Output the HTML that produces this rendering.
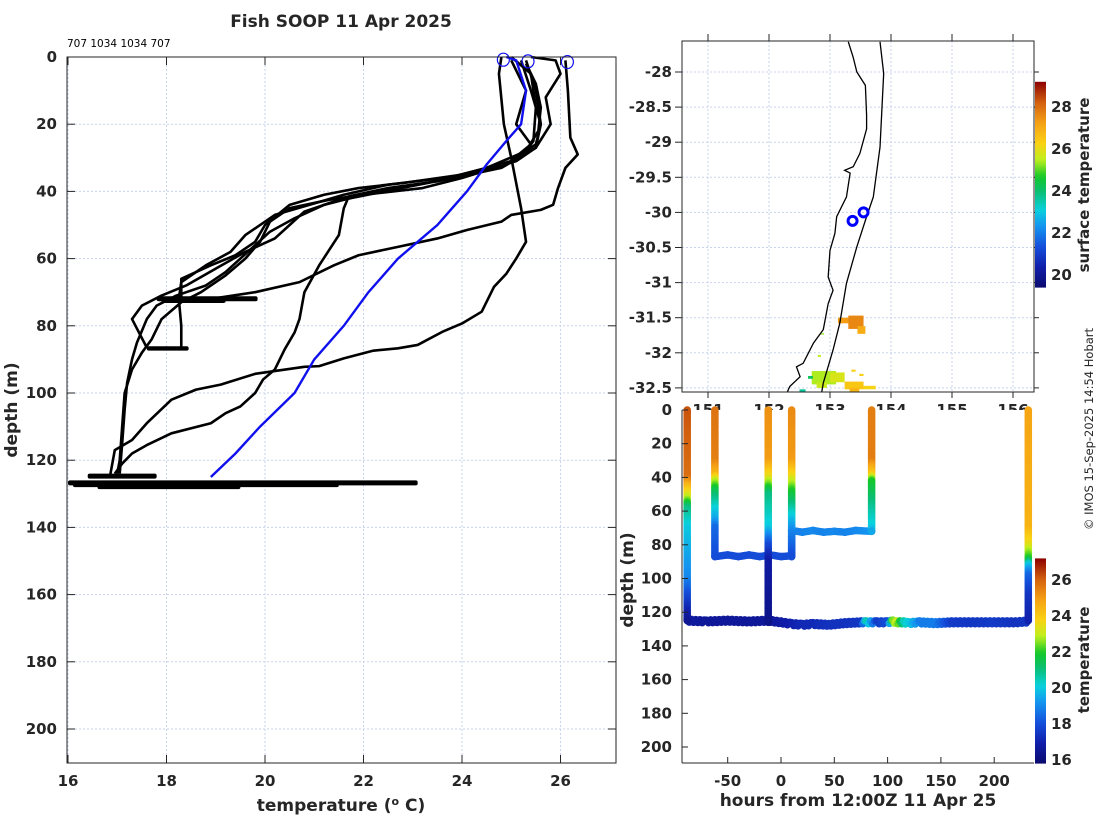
<!DOCTYPE html>
<html><head><meta charset="utf-8"><title>Fish SOOP 11 Apr 2025</title>
<style>
html,body{margin:0;padding:0;background:#fff;}
svg{display:block;font-family:"DejaVu Sans","Liberation Sans",sans-serif;}
.tk{font-weight:bold;font-size:15px;fill:#262626;}
.lb{font-weight:bold;font-size:17px;fill:#262626;}
</style></head>
<body>
<svg id="fig" width="1100" height="820" viewBox="0 0 1100 820" xmlns="http://www.w3.org/2000/svg">
<rect width="1100" height="820" fill="#fff"/>
<g id="left"></g>
<g id="map"></g>
<g id="sect"></g>
<text x="341" y="27" text-anchor="middle" class="lb">Fish SOOP 11 Apr 2025</text>
<text x="67" y="47" font-size="10.5" fill="#000">707 1034 1034 707</text>
<text transform="translate(1093,429) rotate(-90)" text-anchor="middle" font-size="11.5" fill="#262626">© IMOS 15-Sep-2025 14:54 Hobart</text>
</svg>
<script>
// ---------- data: left profile panel (temperature degC, depth m) ----------
const tempTicks = [16,18,20,22,24,26];
const depthTicks = [0,20,40,60,80,100,120,140,160,180,200];
const blueProfile = [[24.9,0],[25.1,1],[25.3,10],[25.2,20],[24.9,25],[24.5,32],[24.1,40],[23.8,45],[23.5,50],[23.1,55],[22.7,60],[22.4,65],[22.1,70],[21.6,80],[21.0,90],[20.6,100],[19.9,110],[19.4,118],[18.9,125]];
const profile1 = [[26.1,1],[26.15,10],[26.2,24],[26.35,29],[26.1,33],[25.95,39],[25.85,44],[25.6,45.5],[25.0,47],[24.8,49],[24.1,51.5],[23.5,54],[22.7,56.5],[21.9,59],[21.4,62],[20.7,67],[19.8,70],[18.9,72],[17.9,72.5]];
const profile2 = [[24.8,0],[24.75,5],[24.85,20],[25.0,30],[25.2,45],[25.3,55],[25.1,60],[24.9,64.5],[24.65,68.4],[24.4,75.8],[24.0,79.3],[23.6,81.8],[23.1,85.7],[22.7,86.7],[22.2,87.4],[21.6,89.7],[21.1,92],[20.8,92.2],[19.8,94.3],[19.1,97.5],[18.6,99],[18.1,102],[17.6,109],[17.3,114],[16.95,117],[16.9,121],[16.85,125]];
const profile3 = [[25.3,1],[25.5,10],[25.6,20],[25.5,27],[24.8,33],[23.5,37],[22.5,39],[21.7,41.5],[21.6,45],[21.5,53],[21.1,62],[20.8,70],[20.7,78],[20.6,82],[20.4,87],[20.2,93],[19.96,96],[19.8,100],[19.5,104],[19.2,106],[18.9,109],[18.1,112],[17.6,115.5],[17.3,118],[17.1,121],[16.95,124]];
const profileA1 = [[25.2,1],[25.4,10],[25.6,20],[25.5,26],[25.0,31],[24.0,35],[22.8,37.5],[21.9,39],[21.2,41],[20.5,44],[20.0,50],[19.8,55],[19.4,59],[18.9,62],[18.3,66],[18.3,72]];
const profileA2 = [[25.3,2],[25.5,8],[25.6,15],[25.55,22],[25.3,28],[24.5,33],[23.3,37.5],[22.2,40.5],[21.3,42.5],[20.5,45],[20.1,49],[19.9,55],[19.6,60],[19.2,65],[18.7,70],[18.3,73],[17.9,78],[17.7,84],[17.5,88],[17.3,93],[17.15,100],[17.1,110],[17.05,120],[17.0,124]];
const profileA3 = [[25.0,0],[25.4,5],[25.5,15],[25.45,25],[25.2,30],[24.2,35],[22.5,38],[21.6,41],[20.9,44],[20.2,47],[19.6,53],[19.3,58],[18.8,62],[18.3,67],[18.25,72],[18.3,80],[18.3,86.5]];
const profileA4 = [[25.4,0],[25.9,1],[26.0,5],[25.7,12],[25.8,20],[25.5,27],[25.1,31],[24.0,36],[23.2,39],[22.0,41],[21.2,44],[20.6,48],[20.1,52],[19.8,56],[19.5,60],[19.2,64],[18.8,68],[18.2,71],[17.8,74],[17.6,78],[17.4,85],[17.3,90],[17.2,97],[17.15,105],[17.1,115],[17.05,124]];
const profileA5 = [[25.0,1],[25.3,10],[25.1,20],[25.4,26],[24.9,32],[23.8,36],[22.6,39.5],[21.4,43],[20.8,46],[20.5,50],[20.2,54],[19.6,58],[19.0,63],[18.4,68],[17.9,71],[17.5,74],[17.3,78],[17.6,86.5]];
// bottom-sitting scribbles: [tempMin, tempMax, depth, thickness(m)]
const bottomBlobs = [[17.8,19.85,71.8,1.2],[17.9,19.2,72.6,0.6],[17.6,18.45,86.6,1.0],[16.4,17.8,124.6,1.2],[16.0,23.1,126.6,1.2],[16.1,21.5,127.3,0.8],[16.6,19.5,128.0,0.6]];
const surfaceMarks = [[24.84,0.8],[25.34,1.3],[26.14,1.5]];

// ---------- data: map ----------
const lonTicks = [151,152,153,154,155,156];
const latTicks = [-28,-28.5,-29,-29.5,-30,-30.5,-31,-31.5,-32,-32.5];
const coastLon = [153.30,153.38,153.44,153.58,153.60,153.60,153.49,153.38,153.24,153.33,153.27,153.11,153.08,153.00,152.97,153.05,152.97,152.89,152.73,152.56,152.45,152.51,152.34,152.29];
const coastLat = [-27.57,-27.79,-28.0,-28.19,-28.62,-28.81,-29.16,-29.35,-29.40,-29.44,-29.78,-30.06,-30.30,-30.54,-30.92,-31.11,-31.30,-31.67,-31.86,-32.15,-32.20,-32.34,-32.48,-32.58];
const isoLon = [153.82,153.88,153.82,153.71,153.60,153.44,153.27,153.16,153.05,152.89,152.86];
const isoLat = [-27.57,-28.02,-29.07,-29.78,-30.06,-30.49,-31.01,-31.58,-31.96,-32.43,-32.58];
const stationLon = [153.37,153.55];
const stationLat = [-30.12,-30.0];
// SST patches: [lon0, lon1, latTop, latBottom, temp]
const sstPatches = [[153.13,153.45,-31.50,-31.58,27.3],[153.30,153.55,-31.47,-31.66,27.6],[153.45,153.58,-31.62,-31.73,27.0],
 [152.70,153.10,-32.26,-32.45,25.4],[153.00,153.24,-32.28,-32.42,25.8],[152.78,152.95,-32.42,-32.50,25.6],
 [153.24,153.55,-32.41,-32.52,26.5],[153.32,153.48,-32.50,-32.57,26.8],[153.55,153.75,-32.47,-32.52,26.2],
 [152.64,152.72,-32.33,-32.37,24.2],[152.50,152.60,-32.52,-32.57,23.6],[152.85,152.90,-31.72,-31.74,25.3],[152.80,152.85,-32.03,-32.06,25.5],[153.35,153.42,-32.24,-32.27,26.3],[153.48,153.55,-32.30,-32.33,26.3]];
const sstRange = [19.4,29.2];
const sstTicks = [20,22,24,26,28];

// ---------- data: section (hours vs depth coloured by temp) ----------
const hourTicks = [-50,0,50,100,150,200];
const secDepthTicks = [0,20,40,60,80,100,120,140,160,180,200];
const castHours = [-88,-62,-12,10,85,232];
const castTop = [0,0,0,0,0,0];
const castBottom = [125,87,126,87,72,125];
// cast temperature profiles [depth,temp]
const cast1 = [[0,26.2],[40,25.8],[45,24.5],[52,23],[58,21],[70,20],[100,19],[110,18],[120,17],[125,16.5]];
const cast2 = [[0,25.7],[30,25.5],[38,24.5],[42,23],[48,21.5],[60,20],[65,19.5],[70,18.5],[87,18]];
const cast3 = [[0,25.2],[30,25],[40,23.5],[50,21],[70,20],[75,19],[80,18],[90,16.8],[126,16.3]];
const cast4 = [[0,25.3],[30,25],[40,23.5],[48,22],[60,20.5],[68,19.5],[72,19],[87,18]];
const cast5 = [[0,25.5],[30,25.5],[38,24],[42,22],[55,21],[70,20],[72,19.5]];
const cast6 = [[0,24.8],[70,24.5],[80,23.5],[88,22],[92,20],[98,18.5],[110,17.5],[125,17]];
const casts = [cast1,cast2,cast3,cast4,cast5,cast6];
// drift tracks: hours, depths, temps
const drift87Hours = [-62,-50,-40,-30,-20,-10,0,10];
const drift87Depth = [87,86,87,86,87,86,87,86.5];
const drift87Temp = [18,18,18,18,18,18,18,18];
const drift72Hours = [10,20,30,40,50,60,70,85];
const drift72Depth = [71.5,72.5,71.5,72.5,72,72.5,71.5,72];
const drift72Temp = [18.9,18.9,19,18.9,19,18.9,19,19.2];
const bedHours = [-88,-70,-50,-30,-12,0,10,20,30,45,60,75,80,90,100,105,108,115,120,130,145,160,180,200,220,232];
const bedDepth = [125,125.5,125,125.5,125,126,127,127.5,127,127.5,126.5,126,126,126,126,125.5,126,126,126.5,126,126.5,126,126,126,126,125.5];
const bedTemp = [16.8,16.6,16.6,16.6,16.6,16.8,17,17.2,17.2,17.4,17.4,17.5,20.5,17.6,18,22.5,23,20.5,20,18.8,18.8,17.6,17.5,17.6,17.4,17.5];
const secTRange = [15.8,27.2];
const secTTicks = [16,18,20,22,24,26];

// ---------- helpers ----------
const NS = "http://www.w3.org/2000/svg";
function mk(parent, tag, attrs){const e=document.createElementNS(NS,tag);for(const k in attrs)e.setAttribute(k,attrs[k]);parent.appendChild(e);return e;}
const CMAP=[[0,[10,10,110]],[0.1,[16,30,170]],[0.2,[20,80,220]],[0.3,[20,150,240]],[0.38,[10,210,220]],[0.46,[10,190,120]],[0.54,[20,200,40]],[0.62,[190,240,30]],[0.7,[250,210,20]],[0.8,[245,160,20]],[0.9,[210,95,15]],[1,[140,0,0]]];
function jet(v){
  v=Math.max(0,Math.min(1,v));
  for(let i=1;i<CMAP.length;i++){if(v<=CMAP[i][0]){const a=CMAP[i-1],b=CMAP[i],f=(v-a[0])/(b[0]-a[0]);
    return `rgb(${Math.round(a[1][0]+f*(b[1][0]-a[1][0]))},${Math.round(a[1][1]+f*(b[1][1]-a[1][1]))},${Math.round(a[1][2]+f*(b[1][2]-a[1][2]))})`;}}
  return 'rgb(140,0,0)';
}
const GRID = "#c9d3ee";

// ---------- left panel ----------
(function(){
  const g=document.getElementById('left');
  const X0=67,X1=616,Y0=57,Y1=763;
  const x=t=>68+(t-16)*49.25, y=d=>57+d*3.36;
  const grid=mk(g,'g',{});
  
  
  tempTicks.forEach(t=>{mk(grid,'line',{x1:x(t),x2:x(t),y1:Y0,y2:Y1,stroke:GRID,'stroke-dasharray':'2,2','stroke-width':1});});
  depthTicks.forEach(d=>{mk(grid,'line',{x1:X0,x2:X1,y1:y(d),y2:y(d),stroke:GRID,'stroke-dasharray':'2,2','stroke-width':1});});
  const lines=[profile1,profile2,profile3,profileA1,profileA2,profileA3,profileA4,profileA5];
  lines.forEach((p,i)=>{
    const pl=mk(g,'polyline',{points:p.map(q=>x(q[0])+','+y(q[1])).join(' '),fill:'none',stroke:'#000','stroke-width':2.6,'stroke-linejoin':'round'});
    
    
  });
  bottomBlobs.forEach((b,i)=>{
    const r=mk(g,'rect',{x:x(b[0]),y:y(b[2])-b[3]*3.36/2,width:x(b[1])-x(b[0]),height:b[3]*3.36+1,fill:'#000',rx:2});
    
    
  });
  const bl=mk(g,'polyline',{points:blueProfile.map(q=>x(q[0])+','+y(q[1])).join(' '),fill:'none',stroke:'#1010ee','stroke-width':2.4});
  
  
  surfaceMarks.forEach((m,i)=>{
    const c=mk(g,'ellipse',{cx:x(m[0]),cy:y(m[1]),rx:6,ry:6.5,fill:'none',stroke:'#1010ee','stroke-width':1.2});
    
    
  });
  const ax=mk(g,'g',{});
  
  
  mk(ax,'rect',{x:X0,y:Y0,width:X1-X0,height:Y1-Y0,fill:'none',stroke:'#262626','stroke-width':1});
  tempTicks.forEach(t=>{
    mk(ax,'line',{x1:x(t),x2:x(t),y1:Y1,y2:Y1-8,stroke:'#262626'});
    mk(ax,'line',{x1:x(t),x2:x(t),y1:Y0,y2:Y0+8,stroke:'#262626'});
    const tx=mk(ax,'text',{x:x(t),y:786,'text-anchor':'middle',class:'tk'});tx.textContent=t;
    
    
  });
  depthTicks.forEach(d=>{
    mk(ax,'line',{x1:X0,x2:X0+8,y1:y(d),y2:y(d),stroke:'#262626'});
    mk(ax,'line',{x1:X1,x2:X1-8,y1:y(d),y2:y(d),stroke:'#262626'});
    const tx=mk(ax,'text',{x:57,y:y(d)+5,'text-anchor':'end',class:'tk'});tx.textContent=d;
    
    
  });
  const xl=mk(ax,'text',{x:341,y:811,'text-anchor':'middle',class:'lb'});
  xl.innerHTML='temperature (<tspan dy="-6" font-size="11">o</tspan><tspan dy="6"> C)</tspan>';
  
  
  const yl=mk(ax,'text',{transform:'translate(17,410) rotate(-90)','text-anchor':'middle',class:'lb'});yl.textContent='depth (m)';
  
  
})();

// ---------- map ----------
(function(){
  const g=document.getElementById('map');
  const X0=682,X1=1034,Y0=41,Y1=392;
  const x=l=>708+(l-151)*61, y=la=>72+(-28-la)*70.2;
  const clip=mk(g,'clipPath',{id:'mapclip'});mk(clip,'rect',{x:X0,y:Y0,width:X1-X0,height:Y1-Y0});
  const grid=mk(g,'g',{});
  
  
  lonTicks.forEach(l=>mk(grid,'line',{x1:x(l),x2:x(l),y1:Y0,y2:Y1,stroke:GRID,'stroke-dasharray':'2,2'}));
  latTicks.forEach(l=>mk(grid,'line',{x1:X0,x2:X1,y1:y(l),y2:y(l),stroke:GRID,'stroke-dasharray':'2,2'}));
  const inner=mk(g,'g',{'clip-path':'url(#mapclip)'});
  sstPatches.forEach((p,i)=>{
    const r=mk(inner,'rect',{x:x(p[0]),y:y(p[2]),width:x(p[1])-x(p[0]),height:y(p[3])-y(p[2]),fill:jet((p[4]-sstRange[0])/(sstRange[1]-sstRange[0]))});
    
    
  });
  const coast=mk(inner,'polyline',{points:coastLon.map((l,i)=>x(l)+','+y(coastLat[i])).join(' '),fill:'none',stroke:'#000','stroke-width':1.3});
  
  
  const iso=mk(inner,'polyline',{points:isoLon.map((l,i)=>x(l)+','+y(isoLat[i])).join(' '),fill:'none',stroke:'#000','stroke-width':1.3});
  
  
  stationLon.forEach((l,i)=>{
    const c=mk(inner,'circle',{cx:x(l),cy:y(stationLat[i]),r:4.5,fill:'none',stroke:'#0000ff','stroke-width':3});
    
    
  });
  mk(g,'rect',{x:X0,y:Y0,width:X1-X0,height:Y1-Y0,fill:'none',stroke:'#262626'});
  latTicks.forEach(l=>{
    mk(g,'line',{x1:X0,x2:X0-7,y1:y(l),y2:y(l),stroke:'#262626'});
    mk(g,'line',{x1:X1,x2:X1+5,y1:y(l),y2:y(l),stroke:'#262626'});
    const t=mk(g,'text',{x:672,y:y(l)+5,'text-anchor':'end',class:'tk'});t.textContent=l;
    
    
  });
  lonTicks.forEach(l=>{
    mk(g,'line',{x1:x(l),x2:x(l),y1:Y0,y2:Y0-7,stroke:'#262626'});
    mk(g,'line',{x1:x(l),x2:x(l),y1:Y1,y2:Y1+6,stroke:'#262626'});
    const t=mk(g,'text',{x:x(l),y:415,'text-anchor':'middle',class:'tk'});t.textContent=l;
    
    
  });
  // colorbar
  const cb=mk(g,'g',{});
  
  
  const cy=t=>275-(t-20)*21, top=cy(sstRange[1]), bot=cy(sstRange[0]);
  const gr=mk(cb,'linearGradient',{id:'sstgrad',x1:0,y1:1,x2:0,y2:0});
  for(let i=0;i<=40;i++)mk(gr,'stop',{offset:i/40,'stop-color':jet(i/40)});
  mk(cb,'rect',{x:1035,y:top,width:11,height:bot-top,fill:'url(#sstgrad)'});
  sstTicks.forEach(t=>{
    const tx=mk(cb,'text',{x:1051,y:cy(t)+5,class:'tk'});tx.textContent=t;
    
    
  });
  const lb=mk(cb,'text',{transform:'translate(1089,185) rotate(-90)','text-anchor':'middle',class:'tk'});lb.textContent='surface temperature';
  
  
})();

// ---------- section ----------
(function(){
  const g=document.getElementById('sect');
  const X0=682,X1=1034,Y0=410,Y1=763;
  const x=h=>781+h*1.066, y=d=>410+d*1.685;
  const col=t=>jet((t-secTRange[0])/(secTRange[1]-secTRange[0]));
  mk(g,'rect',{x:X0+1,y:Y0,width:X1-X0-1,height:Y1-Y0,fill:'#fff'});
  const interp=(arr,d)=>{for(let i=1;i<arr.length;i++){if(d<=arr[i][0]){const a=arr[i-1],b=arr[i];return a[1]+(b[1]-a[1])*(d-a[0])/(b[0]-a[0]||1);}}return arr[arr.length-1][1];};
  const dots=mk(g,'g',{});
  
  
  function seg(h,d,t){mk(dots,'circle',{cx:x(h),cy:y(d),r:3.8,fill:col(t)});}
  for(let i=1;i<bedHours.length;i++){
    const n=Math.max(2,Math.round((bedHours[i]-bedHours[i-1])/2));
    for(let k=0;k<n;k++){const f=k/n;seg(bedHours[i-1]+f*(bedHours[i]-bedHours[i-1]),bedDepth[i-1]+f*(bedDepth[i]-bedDepth[i-1])+(k%2?0.8:-0.8),bedTemp[i-1]+f*(bedTemp[i]-bedTemp[i-1]));}
  }
  [[drift87Hours,drift87Depth,drift87Temp],[drift72Hours,drift72Depth,drift72Temp]].forEach(dr=>{
    const [H,D,T]=dr;
    for(let i=1;i<H.length;i++){const n=Math.max(2,Math.round((H[i]-H[i-1])/2));
      for(let k=0;k<=n;k++){const f=k/n;seg(H[i-1]+f*(H[i]-H[i-1]),D[i-1]+f*(D[i]-D[i-1]),T[i-1]+f*(T[i]-T[i-1]));}}
  });
  for(let d=72;d<=87;d+=1)seg(10,d,18.3);
  casts.forEach((c,ci)=>{
    for(let d=castTop[ci];d<=castBottom[ci];d+=1)seg(castHours[ci],d,interp(c,d));
  });
  mk(g,'line',{x1:X0,x2:X0,y1:Y0,y2:Y1,stroke:'#262626'});
  mk(g,'line',{x1:X0,x2:X1,y1:Y1,y2:Y1,stroke:'#262626'});
  hourTicks.forEach(h=>{
    mk(g,'line',{x1:x(h),x2:x(h),y1:Y1,y2:Y1-6,stroke:'#262626'});
    const t=mk(g,'text',{x:x(h),y:786,'text-anchor':'middle',class:'tk'});t.textContent=h;
    
    
  });
  secDepthTicks.forEach(d=>{
    mk(g,'line',{x1:X0,x2:X0+6,y1:y(d),y2:y(d),stroke:'#262626'});
    const t=mk(g,'text',{x:672,y:y(d)+5,'text-anchor':'end',class:'tk'});t.textContent=d;
    
    
  });
  const xl=mk(g,'text',{x:858,y:806,'text-anchor':'middle',class:'lb'});xl.textContent='hours from 12:00Z 11 Apr 25';
  
  
  const yl=mk(g,'text',{transform:'translate(633,580) rotate(-90)','text-anchor':'middle',class:'lb'});yl.textContent='depth (m)';
  
  
  const cb=mk(g,'g',{});
  
  
  const cy=t=>760-(t-16)*18, top=cy(secTRange[1]), bot=cy(secTRange[0]);
  const gr=mk(cb,'linearGradient',{id:'tgrad',x1:0,y1:1,x2:0,y2:0});
  for(let i=0;i<=40;i++)mk(gr,'stop',{offset:i/40,'stop-color':jet(i/40)});
  mk(cb,'rect',{x:1035,y:top,width:11,height:bot-top,fill:'url(#tgrad)'});
  secTTicks.forEach(t=>{
    const tx=mk(cb,'text',{x:1051,y:cy(t)+5,class:'tk'});tx.textContent=t;
    
    
  });
  const lb=mk(cb,'text',{transform:'translate(1089,660) rotate(-90)','text-anchor':'middle',class:'tk'});lb.textContent='temperature';
  
  
})();
</script>
</body></html>
